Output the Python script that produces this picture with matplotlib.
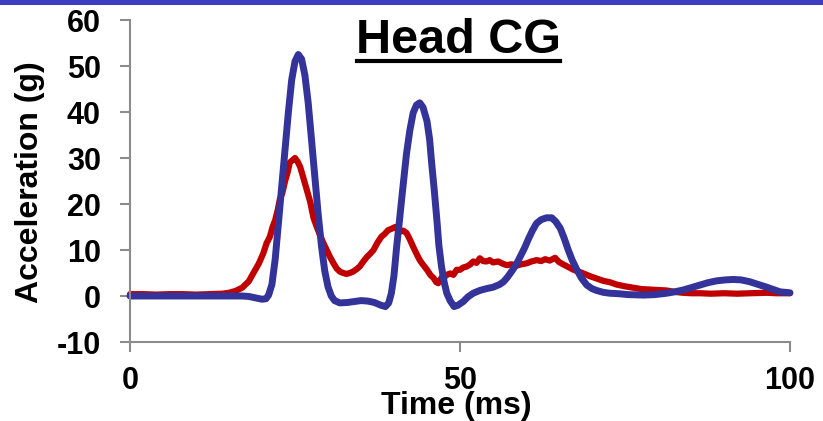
import matplotlib
matplotlib.use("Agg")
import matplotlib.pyplot as plt
from matplotlib.lines import Line2D
from matplotlib.patches import Rectangle

plt.rcParams["font.family"] = ["Liberation Sans", "DejaVu Sans"]
plt.rcParams["font.weight"] = "bold"

# Measured head CG acceleration (noisy test trace)
test_time = [0, 2, 4, 6, 8, 10, 12, 14, 15, 16, 17, 18, 18.7, 19.5, 20.2, 20.7,
             21.2, 21.6, 22, 22.4, 22.7, 23.1, 23.5, 23.9, 24.2, 24.6, 25, 25.4,
             25.8, 26.3, 26.8, 27.3, 27.8, 28.3, 28.8, 29.3, 29.8, 30.3, 30.8,
             31.3, 31.8, 32.3, 32.8, 33.3, 33.8, 34.3, 34.8, 35.3, 35.9, 36.4,
             36.9, 37.5, 38.1, 38.6, 39.1, 39.6, 40.2, 40.6, 40.9, 41.4, 41.9,
             42.4, 42.9, 43.4, 43.9, 44.4, 45, 45.5, 46, 46.4, 46.7, 47, 47.4,
             47.7, 48, 48.5, 49, 49.5, 50, 50.5, 51, 51.5, 52, 52.5, 53, 53.5,
             54, 54.5, 55, 55.8, 56.5, 57.1, 57.8, 58.6, 59.3, 60.1, 60.8, 61.6,
             62.3, 62.9, 63.6, 64.4, 65, 65.6, 66.4, 67.2, 68, 68.7, 69.7, 70.7,
             71.7, 72.7, 73.7, 75, 76.3, 77.5, 78.8, 80, 81.3, 82.5, 83.8, 85,
             86.4, 88, 90, 92, 94, 96.5, 98, 100]
test_accel = [0.4, 0.4, 0.3, 0.4, 0.4, 0.3, 0.4, 0.5, 0.7, 1.1, 1.8, 3.2, 5.0, 7.0,
              9.3, 11.5, 12.9, 15.0, 16.5, 18.8, 21.0, 22.5, 25.0, 27.0, 29.0,
              29.5, 30.0, 29.2, 28.0, 25.5, 23.0, 20.5, 17.0, 15.0, 13.2, 11.5,
              10.0, 8.5, 7.2, 6.0, 5.3, 5.0, 4.8, 5.0, 5.3, 5.8, 6.4, 7.4, 8.5,
              9.2, 10.0, 11.6, 12.9, 13.5, 14.3, 14.6, 15.0, 14.3, 14.0, 14.2,
              13.7, 12.3, 10.7, 9.2, 7.8, 6.8, 5.7, 4.6, 3.9, 3.0, 2.8, 3.5, 4.4,
              4.2, 4.6, 4.9, 4.6, 5.7, 5.7, 6.2, 6.4, 6.8, 7.5, 7.2, 8.2, 7.6,
              7.5, 7.8, 7.3, 7.5, 7.0, 6.7, 6.9, 6.6, 6.9, 7.1, 7.5, 7.8, 7.6,
              8.0, 7.7, 8.3, 7.4, 6.9, 6.3, 5.7, 5.3, 4.9, 4.3, 3.8, 3.3, 3.0,
              2.5, 2.1, 1.8, 1.5, 1.4, 1.3, 1.2, 0.9, 0.7, 0.6, 0.6, 0.5, 0.6,
              0.5, 0.6, 0.7, 0.6, 0.6]

# Simulated head CG acceleration (smooth model trace)
model_time = [0, 5, 10, 15, 17, 18, 19, 20, 20.6, 21, 21.5, 22, 22.5, 23, 23.5,
              24, 24.5, 25, 25.5, 26, 26.5, 27, 27.5, 28, 28.5, 29, 29.5, 30,
              30.5, 31, 31.8, 33, 34, 35, 36, 37, 38, 38.7, 39.2, 39.6, 40, 40.4,
              40.8, 41.2, 41.6, 41.9, 42.4, 42.9, 43.4, 43.9, 44.4, 45, 45.4,
              45.7, 46.1, 46.5, 46.8, 47.2, 47.6, 48, 48.5, 49.1, 49.7, 50.5,
              51.2, 52, 53, 54, 55, 56, 56.6, 57.2, 57.8, 58.5, 59.1, 59.8, 60.4,
              61, 61.6, 62.3, 63.1, 63.9, 64.5, 65.2, 65.8, 66.4, 67, 67.7, 68.4,
              69.2, 70, 70.7, 71.7, 72.7, 74, 75.5, 77.8, 79.5, 81.3, 82.5, 83.8,
              85, 86.4, 87.6, 88.9, 90.2, 91.4, 92.6, 93.9, 95.2, 96.5, 97.5,
              98.5, 100]
model_accel = [0, 0, 0, 0, 0, -0.1, -0.4, -0.7, -0.6, 0.2, 2.5, 8, 16, 24, 32,
               40, 47, 51, 52.5, 51.5, 48, 42, 34, 26, 18, 11, 5.5, 2, 0, -1,
               -1.5, -1.4, -1.2, -1.0, -1.1, -1.4, -2.0, -2.3, -1.5, 0.6, 4.5,
               10.7, 16, 21.6, 27, 31, 36, 39.8, 41.5, 42, 41, 38, 34, 29, 23,
               16.5, 11, 6.4, 3, 0.6, -1.0, -2.3, -2.0, -1.2, -0.2, 0.6, 1.2,
               1.6, 1.9, 2.5, 3.1, 4.1, 5.3, 6.8, 8.5, 10.5, 12.5, 14.3, 15.8,
               16.6, 17.0, 17.0, 16.2, 14.7, 12.5, 10, 7.8, 5.7, 3.9, 2.4, 1.6,
               1.2, 0.8, 0.6, 0.5, 0.3, 0.2, 0.3, 0.6, 0.9, 1.3, 1.8, 2.4, 2.9,
               3.3, 3.5, 3.6, 3.5, 3.1, 2.5, 1.9, 1.4, 0.9, 0.7]

x_ticks = [0, 50, 100]
y_ticks = [-10, 0, 10, 20, 30, 40, 50, 60]

W, H = 823, 421
fig = plt.figure(figsize=(W / 100, H / 100), dpi=100)
fig.patch.set_facecolor("white")

# slide header strip
fig.add_artist(Rectangle((0, 1 - 5 / H), 1, 5 / H, transform=fig.transFigure,
                         facecolor="#3d3dc4", edgecolor="none"))

ax = fig.add_axes([130 / W, 1 - 342 / H, 660 / W, 322 / H])
ax.plot(test_time, test_accel, color="#c00000", lw=4.5,
        solid_joinstyle="round", solid_capstyle="round", clip_on=False)
ax.plot(model_time, model_accel, color="#333399", lw=5,
        solid_joinstyle="round", solid_capstyle="round", clip_on=False)

ax.set_xlim(0, 100)
ax.set_ylim(-10, 60)
ax.set_xticks(x_ticks)
ax.set_yticks(y_ticks)
ax.set_xticklabels([str(v) for v in x_ticks], fontsize=22, fontweight="bold")
ax.set_yticklabels([str(v) for v in y_ticks], fontsize=22, fontweight="bold")

grey = "#8c8c8c"
for side in ("top", "right"):
    ax.spines[side].set_visible(False)
for side in ("left", "bottom"):
    ax.spines[side].set_color(grey)
    ax.spines[side].set_linewidth(1.5)
ax.tick_params(axis="both", direction="out", length=7, width=1.5, color=grey)
ax.tick_params(axis="x", pad=10)
ax.tick_params(axis="y", pad=14)

fig.text(30 / W, 1 - 182 / H, "Acceleration (g)", rotation=90, ha="center",
         va="center", fontsize=23, fontweight="bold")
fig.text(456 / W, 7 / H, "Time (ms)", ha="center", va="baseline",
         fontsize=23, fontweight="bold")

# underlined chart title
fig.text(458 / W, 1 - 53 / H, "Head CG", ha="center", va="baseline",
         fontsize=35, fontweight="bold")
fig.add_artist(Line2D([357 / W, 560 / W], [1 - 61 / H, 1 - 61 / H],
                      transform=fig.transFigure, color="black", lw=3))

fig.savefig("out.png", dpi=100)
